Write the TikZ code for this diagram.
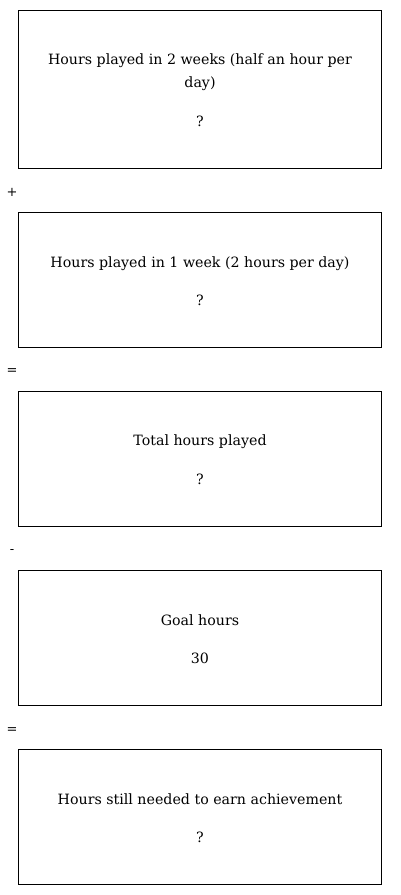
\documentclass[tikz,border=0pt]{standalone}
\usepackage{fontspec}
\setmainfont{DejaVu Serif}
\begin{document}
\begin{tikzpicture}[x=1pt,y=-1pt,
  box/.style={draw, line width=0.9pt, minimum width=363pt, inner sep=0pt},
  lbl/.style={font=\fontsize{14.2}{23}\selectfont, align=center, inner sep=0pt},
  op/.style={font=\fontsize{13}{16}\selectfont, inner sep=0pt}]
\useasboundingbox (0,0) rectangle (400,895);
\node[box, minimum height=158pt] (b1) at (199.5,89) {};
\node[box, minimum height=135pt] (b2) at (199.5,279.5) {};
\node[box, minimum height=135pt] (b3) at (199.5,458.5) {};
\node[box, minimum height=135pt] (b4) at (199.5,637.5) {};
\node[box, minimum height=135pt] (b5) at (199.5,816.5) {};
\node[lbl] (t1) at (200,72.5) {Hours played in 2 weeks (half an hour per\\day)};
\node[lbl] (v1) at (200,121) {?};
\node[lbl] (t2) at (200,263.5) {Hours played in 1 week (2 hours per day)};
\node[lbl] (v2) at (200,300) {?};
\node[lbl] (t3) at (200,441.5) {Total hours played};
\node[lbl] (v3) at (200,479) {?};
\node[lbl] (t4) at (200,620.5) {Goal hours};
\node[lbl] (v4) at (200,658) {30};
\node[lbl] (t5) at (200,799.5) {Hours still needed to earn achievement};
\node[lbl] (v5) at (200,837) {?};
\node[op] (o1) at (12,192.5) {+};
\node[op] (o2) at (12,372) {=};
\node[op] (o3) at (12,552) {-};
\node[op] (o4) at (12,730.5) {=};
\end{tikzpicture}
\end{document}
